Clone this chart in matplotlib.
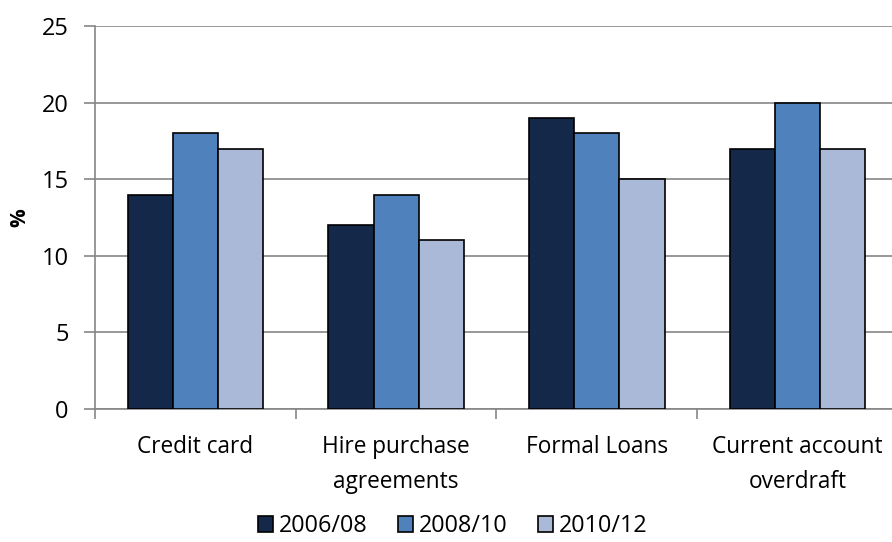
import numpy as np
import matplotlib
matplotlib.use('Agg')
import matplotlib.pyplot as plt

categories = ['Credit card', 'Hire purchase\nagreements', 'Formal Loans', 'Current account\noverdraft']
series = ['2006/08', '2008/10', '2010/12']
v_2006_08 = [14, 12, 19, 17]
v_2008_10 = [18, 14, 18, 20]
v_2010_12 = [17, 11, 15, 17]
colors = ['#14284A', '#4F81BD', '#AAB9D7']

plt.rcParams['font.family'] = ['Open Sans', 'DejaVu Sans']

fig = plt.figure(figsize=(8.92, 5.42), dpi=100)
ax = fig.add_axes([95 / 892, 1 - 409 / 542, 803 / 892, 383 / 542])

x = np.arange(len(categories))
w = 0.225
for i, (vals, name) in enumerate(zip([v_2006_08, v_2008_10, v_2010_12], series)):
    ax.bar(x + (i - 1) * w, vals, w, color=colors[i], edgecolor='black', linewidth=1.2,
           label=name, zorder=3)

ax.set_xlim(-0.5, len(categories) - 0.5)
ax.set_ylim(0, 25)
ax.set_yticks(range(0, 26, 5))
ax.yaxis.grid(True, color='#868686', linewidth=1.2, zorder=0)
ax.set_ylabel('%', fontsize=15, fontweight='bold', labelpad=8)

ax.set_xticks(x)
ax.set_xticklabels(categories, fontsize=16.3, linespacing=1.6)
ax.set_xticks(np.arange(-0.5, len(categories), 1), minor=True)
ax.tick_params(axis='x', which='major', length=0, pad=19)
ax.tick_params(axis='x', which='minor', length=7, color='#868686', width=1.2)
ax.tick_params(axis='y', length=8, color='#868686', width=1.2, labelsize=17, pad=11)

for s in ['top', 'right']:
    ax.spines[s].set_visible(False)
for s in ['left', 'bottom']:
    ax.spines[s].set_color('#868686')
    ax.spines[s].set_linewidth(1.2)

fig.legend(loc='center', bbox_to_anchor=(453 / 892, 1 - 526 / 542), ncol=3, frameon=False,
           fontsize=16.8, handlelength=0.65, handleheight=0.65, handletextpad=0.25,
           columnspacing=1.3, borderpad=0)

fig.savefig('out.png', dpi=100)
